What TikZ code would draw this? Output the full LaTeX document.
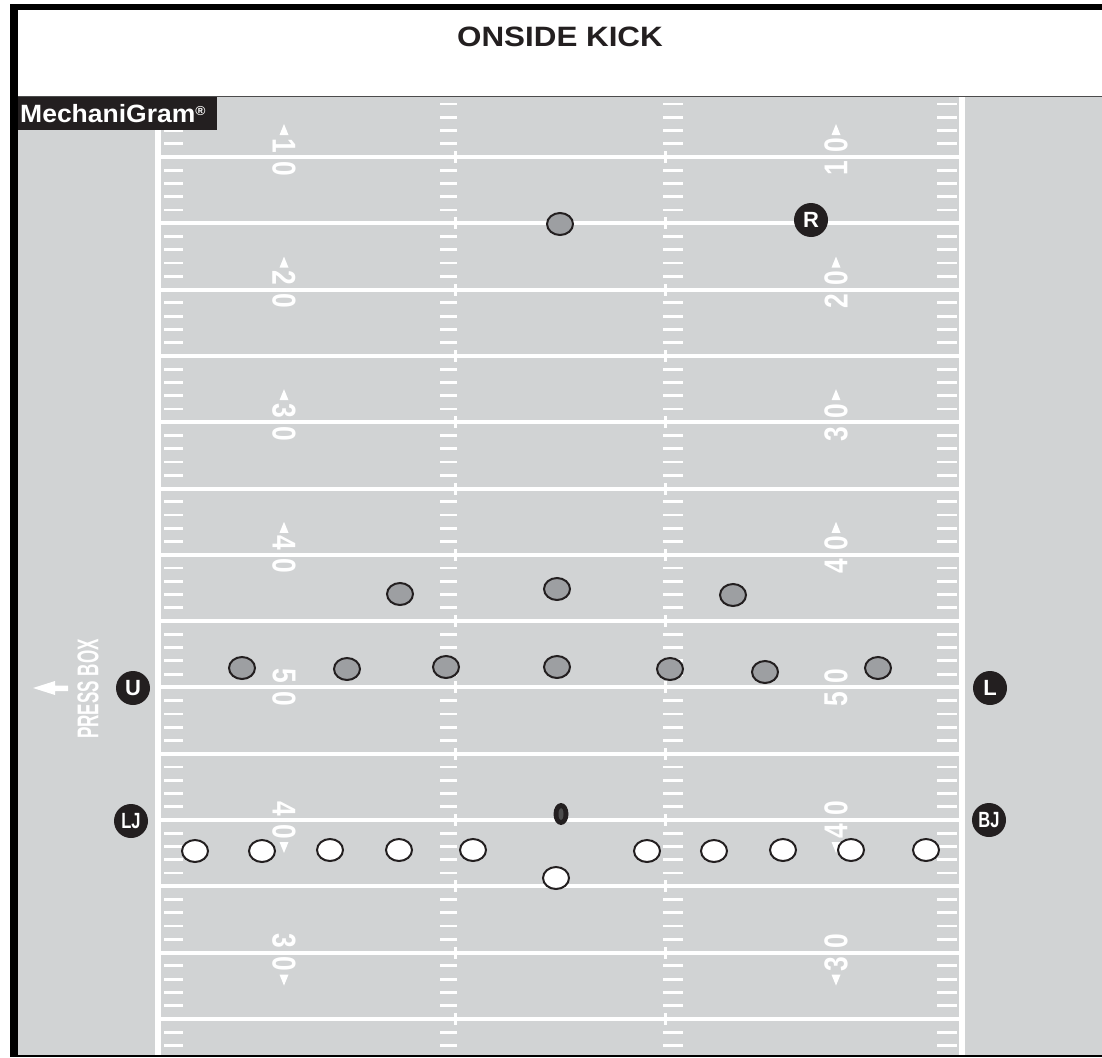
\documentclass[tikz,border=0pt]{standalone}
\usepackage{fontspec}
\setmainfont{Liberation Sans}
\usetikzlibrary{shapes.geometric}
\definecolor{fieldgray}{HTML}{D1D3D4}
\definecolor{ink}{HTML}{231F20}
\definecolor{pgray}{HTML}{9D9FA2}
\begin{document}
\begin{tikzpicture}[x=1pt,y=-1pt,
  dig/.style={text=white, inner sep=0pt, font=\fontsize{33}{33}\selectfont\bfseries},
  gp/.style={ellipse, draw=ink, fill=pgray, line width=2pt, minimum width=26pt, minimum height=22pt, inner sep=0pt},
  wp/.style={gp, fill=white},
  offl/.style={circle, fill=ink, text=white, minimum size=34pt, inner sep=0pt, font=\fontsize{22}{22}\selectfont\bfseries},
  tick/.style={white}]
\useasboundingbox (0,0) rectangle (1102,1057);
\fill[white] (0,0) rectangle (1102,1057);
% frame
\fill[black] (10,4) rectangle (1102,10);
\fill[black] (10,4) rectangle (18,1057);
\fill[fieldgray] (18,97) rectangle (1102,1055);
\draw[gray!60!black, line width=1.2pt] (18,96.5) -- (1102,96.5);
\fill[black] (10,1055) rectangle (1102,1057);
% title
\node[text=ink, font=\fontsize{28}{28}\selectfont\bfseries] (title) at (560,37) {\scalebox{1.12}[1]{ONSIDE KICK}};
% sidelines
\fill[white] (155,97) rectangle (161,1055);
\fill[white] (959,97) rectangle (965,1055);
% yard lines and hash crosses
\foreach \k in {0,...,13}{
  \pgfmathsetmacro{\yl}{157+66.3*\k}
  \fill[white] (158,\yl-2) rectangle (962,\yl+2);
  \fill[white] (453.5,\yl-6) rectangle (456.5,\yl+6);
  \fill[white] (663.5,\yl-6) rectangle (666.5,\yl+6);
}
% yard ticks
\foreach \m in {-4,...,67}{
  \pgfmathtruncatemacro{\r}{mod(\m+100,5)}
  \ifnum\r=0\else
    \pgfmathsetmacro{\yy}{157+13.26*\m}
    \foreach \xa/\xb in {164/183,440/457,663/683,937/957}
      \fill[tick] (\xa,\yy-1.4) rectangle (\xb,\yy+1.4);
  \fi
}
% MechaniGram label
\fill[ink] (18,97) rectangle (217,130);
\node[anchor=west, text=white, inner sep=0pt, font=\fontsize{25}{25}\selectfont\bfseries] (mg) at (20,114) {\scalebox{1.06}[1]{MechaniGram{\fontsize{13}{13}\selectfont\raisebox{7pt}{®}}}};
% yard numbers
\foreach \L/\a/\b/\dir [count=\i] in {157/1/0/-1, 289.6/2/0/-1, 422.2/3/0/-1, 554.8/4/0/-1, 687.4/5/0/0, 820/4/0/1, 952.6/3/0/1}{
  \node[dig, rotate=-90] (la\i) at (284,\L-11.5) {\scalebox{0.8}[1]{\a}};
  \node[dig, rotate=-90] (lb\i) at (284,\L+11.5) {\scalebox{0.8}[1]{\b}};
  \node[dig, rotate=90] (ra\i) at (836,\L+11.5) {\scalebox{0.8}[1]{\a}};
  \node[dig, rotate=90] (rb\i) at (836,\L-11.5) {\scalebox{0.8}[1]{\b}};
  \ifnum\dir=0\else
    \fill[white] (284,\L+\dir*33) -- (279.5,\L+\dir*22) -- (288.5,\L+\dir*22) -- cycle;
    \fill[white] (836,\L+\dir*33) -- (831.5,\L+\dir*22) -- (840.5,\L+\dir*22) -- cycle;
  \fi
}
% press box
\node[rotate=90, text=white, inner sep=0pt, font=\fontsize{30}{30}\selectfont\bfseries] (pb) at (88,689) {\scalebox{0.57}[1]{PRESS BOX}};
\fill[white] (33,688) -- (55,681) -- (55,685.5) -- (68,685.5) -- (68,691) -- (55,691) -- (55,695) -- cycle;
% receiving team (gray)
\node[gp] (g1) at (560,224) {};
\node[gp] (g2) at (400,594) {};
\node[gp] (g3) at (557,589) {};
\node[gp] (g4) at (733,595) {};
\node[gp] (g5) at (242,668) {};
\node[gp] (g6) at (347,669) {};
\node[gp] (g7) at (446,667) {};
\node[gp] (g8) at (557,667) {};
\node[gp] (g9) at (670,669) {};
\node[gp] (g10) at (765,672) {};
\node[gp] (g11) at (878,668) {};
% kicking team (white)
\node[wp] (w1) at (195,851) {};
\node[wp] (w2) at (262,851) {};
\node[wp] (w3) at (330,850) {};
\node[wp] (w4) at (399,850) {};
\node[wp] (w5) at (473,850) {};
\node[wp] (w6) at (647,851) {};
\node[wp] (w7) at (714,851) {};
\node[wp] (w8) at (783,850) {};
\node[wp] (w9) at (851,850) {};
\node[wp] (w10) at (926,850) {};
\node[wp] (w11) at (556,878) {};
% ball
\node[ellipse, fill=ink, minimum width=15pt, minimum height=22pt, inner sep=0pt] (ball) at (561,814) {};
\fill[black!70] (ball.center) ellipse [x radius=2.5, y radius=6];
% officials
\node[offl] (R) at (811,220) {R};
\node[offl] (U) at (133,688) {U};
\node[offl] (L) at (990,688) {L};
\node[offl] (LJ) at (131,821) {\scalebox{0.75}[1]{LJ}};
\node[offl] (BJ) at (989,820) {\scalebox{0.75}[1]{BJ}};
\end{tikzpicture}
\end{document}
